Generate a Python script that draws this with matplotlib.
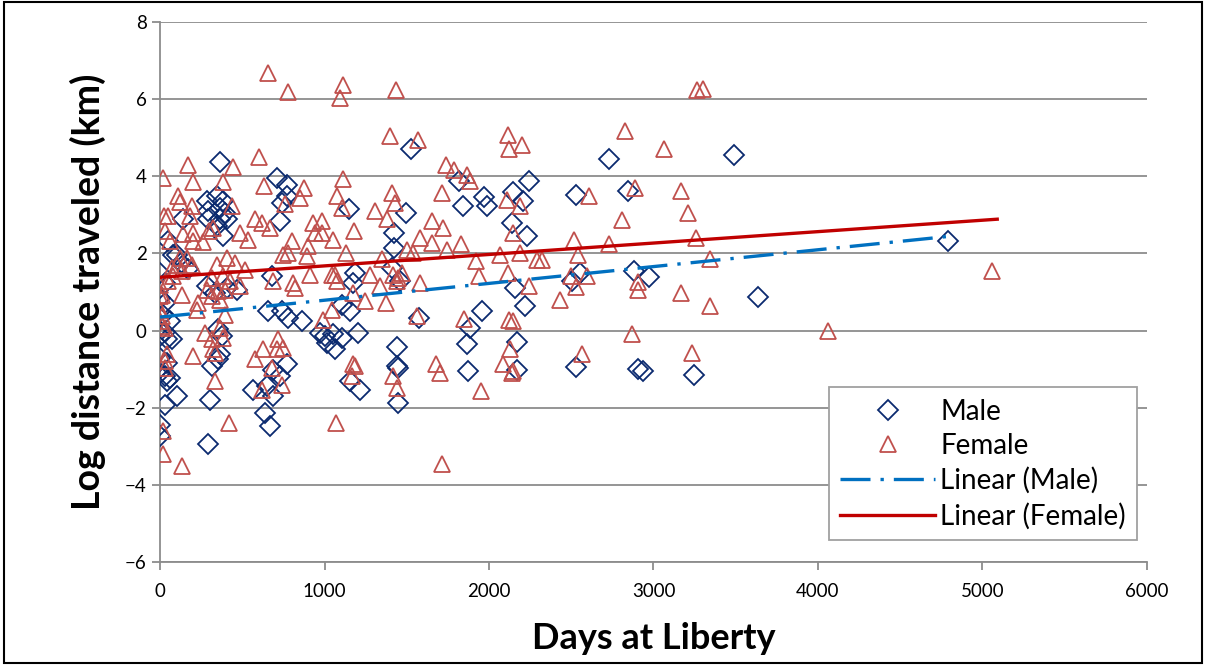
import numpy as np
import matplotlib.pyplot as plt
from matplotlib.patches import Rectangle

# days at liberty / log distance
male_days = [365, 709, 770, 284, 345, 385, 770, 740, 294, 365, 395, 142, 294, 365, 405, 345, 730, 385, 50, 101,
             1526, 1151, 1495, 1820, 1844, 1970, 1986, 2148, 2209, 2245, 2138, 2229, 1423, 1423,
             2732, 2527, 2847, 3491, 4792, 3634,
             2553, 2503, 2882, 2975, 2219, 2170, 2170, 2529, 2908, 2938, 3246,
             1185, 1175, 1408, 1459, 1105, 1155, 2158, 1956, 1577, 1885, 1054, 1105, 1205, 1064, 1439, 1864,
             1439, 1449, 1874, 1155, 1216, 1449,
             0, 30, 0, 30, 61, 284, 334, 405, 466, 679, 659, 740, 780, 862, 355, 375, 0, 41, 71, 0, 365, 355,
             314, 0, 30, 41, 101, 30, 304, 649, 567, 689, 770, 638, 669, 0, 0, 294, 973, 1003, 1013, 689, 730,
             81, 30, 40, 60, 130, 170, 20]
male_logdist = [4.36, 3.96, 3.78, 3.35, 3.50, 3.35, 3.48, 3.31, 3.09, 3.18, 3.05, 2.88, 2.88, 2.88, 2.88, 2.70, 2.83, 2.44, 2.31, 1.97,
                4.71, 3.15, 3.05, 3.87, 3.22, 3.45, 3.22, 3.58, 3.35, 3.87, 2.79, 2.44, 2.53, 2.14,
                4.45, 3.52, 3.63, 4.56, 2.33, 0.86,
                1.49, 1.28, 1.54, 1.39, 0.63, -0.30, -1.03, -0.94, -0.99, -1.05, -1.14,
                1.49, 1.24, 1.62, 1.28, 0.67, 0.50, 1.10, 0.50, 0.33, 0.07, -0.10, -0.19, -0.06, -0.49, -0.42, -0.36,
                -0.92, -0.97, -1.05, -1.31, -1.53, -1.87,
                1.49, 1.24, 0.85, 0.72, 0.24, 1.15, 0.98, 1.10, 1.06, 1.41, 0.50, 0.50, 0.33, 0.24, 0.03, -0.15, -0.15, -0.23, -0.23, -0.71, -0.62, -0.75,
                -0.92, -1.10, -1.18, -1.31, -1.70, -1.92, -1.79, -1.44, -1.53, -1.70, -0.88, -2.13, -2.48, -2.44, -2.74, -2.95, -0.06, -0.15, -0.32, -1.01, -1.18,
                1.97, -0.05, -0.83, -1.22, 1.75, 1.60, 0.40]

female_days = [655, 780, 172, 446, 604, 16, 199, 385, 634, 877, 111, 122, 193, 436, 851, 760, 24, 50, 182, 578,
               618, 669, 30, 142, 199, 300, 324, 486, 537, 61, 203, 263, 932, 983, 942, 983, 800, 902,
               1110, 1094, 1435, 1398, 1570, 2114, 2122, 2203, 1110, 1739, 1787, 1864, 1885, 1408, 1078, 1105,
               1429, 1712, 1307, 1378, 1652, 1722, 2111, 2188, 2144, 1179, 1054, 1580, 1652, 1828, 1743, 1500,
               1540, 1130, 1347,
               3263, 3303, 2827, 3064, 2610, 2888, 3165, 3212, 2807, 2517, 2732, 3258, 2541, 2290, 2320, 3344,
               5056, 3344, 4063,
               2245, 2432, 2497, 2529, 2594, 2908, 2908, 3165, 2867, 2563, 3232,
               1921, 2067, 2188, 1064, 1074, 1277, 1418, 1449, 1469, 1439, 1337, 1580, 1941, 2117, 1175, 1246,
               1374, 1564, 1850, 2123, 2144, 1175, 1185, 1165, 1678, 1702, 1418, 1439, 2087, 2128, 2138, 2148,
               1950, 1070, 1712,
               122, 162, 101, 193, 71, 132, 81, 50, 0, 0, 10, 132, 233, 223, 345, 405, 456, 517, 314, 385, 426,
               486, 355, 395, 284, 314, 365, 395, 689, 810, 821, 912, 993, 1044, 1044, 0, 10, 0, 10, 30, 274,
               365, 314, 385, 41, 30, 30, 203, 334, 324, 334, 20, 20, 132, 421, 719, 709, 750, 628, 578, 679,
               740, 618, 750, 780, 892]
female_logdist = [6.68, 6.19, 4.30, 4.24, 4.50, 3.96, 3.84, 3.84, 3.76, 3.70, 3.48, 3.32, 3.22, 3.22, 3.44, 3.29, 2.96, 2.96, 2.96, 2.88,
                  2.79, 2.66, 2.57, 2.49, 2.53, 2.57, 2.66, 2.53, 2.36, 2.31, 2.31, 2.29, 2.79, 2.83, 2.53, 2.53, 2.31, 2.18,
                  6.37, 6.03, 6.23, 5.05, 4.95, 5.08, 4.71, 4.82, 3.93, 4.30, 4.17, 4.04, 3.87, 3.57, 3.48, 3.18,
                  3.31, 3.57, 3.09, 2.88, 2.83, 2.66, 3.39, 3.22, 2.53, 2.57, 2.36, 2.40, 2.27, 2.25, 2.10, 2.10,
                  2.01, 2.00, 1.85,
                  6.24, 6.26, 5.16, 4.71, 3.50, 3.70, 3.61, 3.06, 2.86, 2.36, 2.25, 2.40, 1.97, 1.84, 1.84, 1.86,
                  1.54, 0.63, -0.02,
                  1.15, 0.79, 1.41, 1.13, 1.41, 1.25, 1.04, 0.98, -0.10, -0.60, -0.58,
                  1.80, 1.97, 2.01, 1.45, 1.28, 1.45, 1.45, 1.37, 1.49, 1.28, 1.15, 1.24, 1.42, 1.49, 0.98, 0.76,
                  0.72, 0.37, 0.30, 0.28, 0.24, -0.88, -0.92, -1.18, -0.88, -1.10, -1.18, -1.48, -0.88, -0.49, -1.10, -1.05,
                  -1.57, -2.39, -3.47,
                  1.88, 1.88, 1.71, 1.71, 1.62, 1.54, 1.41, 1.28, 1.19, 0.89, 0.93, 0.93, 0.72, 0.54, 1.71, 1.88, 1.75, 1.58, 1.36, 1.41, 1.28,
                  1.15, 1.02, 1.06, 1.06, 0.89, 0.80, 0.41, 1.28, 1.24, 1.10, 1.45, 0.28, 0.54, 1.45, 0.54, 0.37, 0.24, 0.11, 0.07, -0.06,
                  0.07, -0.23, -0.19, -0.62, -0.80, -0.97, -0.67, -0.58, -0.49, -1.31, -2.61, -3.21, -3.52, -2.39, -0.23, -0.49, -0.45, -0.49, -0.75, -0.97,
                  -1.40, -1.53, 1.97, 2.01, 1.92]

# linear trend lines (intercept, slope per day, last x)
male_trend = (0.35, 0.000436, 4820)
female_trend = (1.38, 0.000296, 5090)

plt.rcParams['font.family'] = ['Lato', 'DejaVu Sans']

fig = plt.figure(figsize=(12.06, 6.65), dpi=100)
ax = fig.add_axes([0.1327, 0.1549, 0.8183, 0.8121])

grid_c = '#8c8c8c'
ax.plot(male_days, male_logdist, 'D', ms=10, mfc='none', mec='#0b2a6f', mew=1.3, label='Male', zorder=3)
ax.plot(female_days, female_logdist, '^', ms=11, mfc='none', mec='#c0504d', mew=1.3, label='Female', zorder=3)

xm = np.array([0, male_trend[2]])
ax.plot(xm, male_trend[0] + male_trend[1] * xm, color='#0070c0', lw=2.4,
        dashes=(9, 3, 1, 3), label='Linear (Male)', zorder=4)
xf = np.array([0, female_trend[2]])
ax.plot(xf, female_trend[0] + female_trend[1] * xf, color='#c00000', lw=2.4,
        label='Linear (Female)', zorder=4)

ax.set_xlim(0, 6000)
ax.set_ylim(-6, 8)
ax.set_xticks(range(0, 6001, 1000))
ax.set_yticks(range(-6, 9, 2))
ax.yaxis.grid(True, color=grid_c, lw=1.3)
ax.set_axisbelow(True)
for s in ['top', 'right']:
    ax.spines[s].set_visible(False)
for s in ['left', 'bottom']:
    ax.spines[s].set_color(grid_c)
    ax.spines[s].set_linewidth(1.3)
ax.tick_params(axis='both', colors=grid_c, length=6, width=1.3, labelsize=13.5, labelcolor='black')
ax.tick_params(axis='x', pad=9)

ax.set_xlabel('Days at Liberty', fontsize=26, fontweight='bold', labelpad=16)
ax.set_ylabel('Log distance traveled (km)', fontsize=27, fontweight='bold', labelpad=14)

leg = ax.legend(loc='lower right', bbox_to_anchor=(0.99, 0.04), fontsize=20, fancybox=False,
                edgecolor='#a0a0a0', framealpha=1, borderpad=0.4, labelspacing=0.3,
                handlelength=3.4, handletextpad=0.2, borderaxespad=0)
leg.get_frame().set_linewidth(1.3)

fig.add_artist(Rectangle((0.003, 0.003), 0.994, 0.994, transform=fig.transFigure,
                         fill=False, edgecolor='black', lw=1.5))

fig.savefig('out.png', dpi=100)
